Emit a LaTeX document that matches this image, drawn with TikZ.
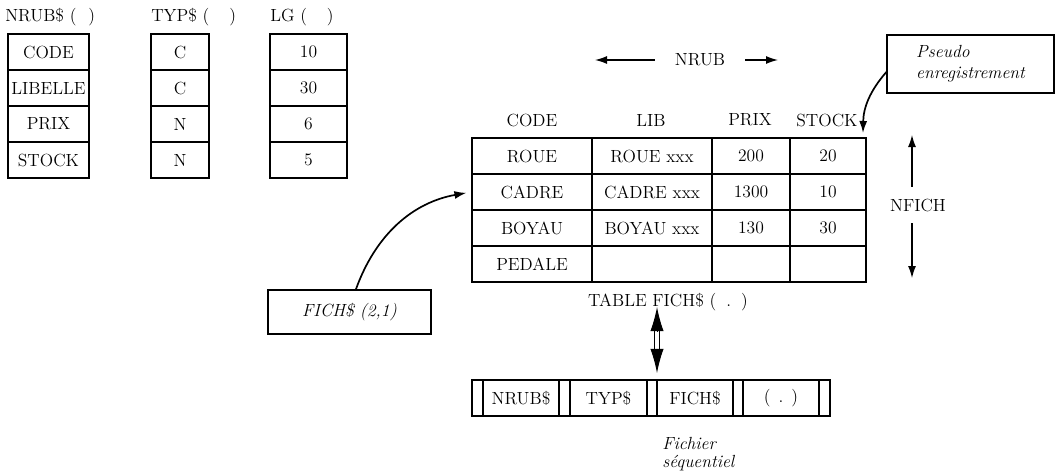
\documentclass[tikz,border=0pt]{standalone}
\usetikzlibrary{arrows.meta}
\begin{document}
\begin{tikzpicture}[
        x=0.025cm,
        y=-0.025cm,
        every node/.style={
            inner sep=0pt,
            font=\fontsize{12.5}{15}\selectfont
        },
        cell/.style={draw=black, line width=1.2pt, minimum height=9mm},
        callout/.style={draw=black, line width=0.9pt, font=\fontsize{12.5}{15}\selectfont\itshape},
        flecha/.style={-{Latex[length=3mm,width=2mm]}, line width=0.9pt}
    ]
    \useasboundingbox (0,0) rectangle (1060,474);

    % Tableaux des rubriques
    \node[anchor=west] (tnrub) at (5,17)   {NRUB\$ (\hspace{3mm})};
    \node[anchor=west] (ttyp)  at (151,17) {TYP\$ (\hspace{5mm})};
    \node[anchor=west] (tlg)   at (270,17) {LG (\hspace{5mm})};

    \node[cell, minimum width=20.25mm] (rub1) at (48.5,52)  {CODE};
    \node[cell, minimum width=20.25mm] (rub2) at (48.5,88)  {LIBELLE};
    \node[cell, minimum width=20.25mm] (rub3) at (48.5,124) {PRIX};
    \node[cell, minimum width=20.25mm] (rub4) at (48.5,160) {STOCK};

    \node[cell, minimum width=14.5mm] (typ1) at (180,52)  {C};
    \node[cell, minimum width=14.5mm] (typ2) at (180,88)  {C};
    \node[cell, minimum width=14.5mm] (typ3) at (180,124) {N};
    \node[cell, minimum width=14.5mm] (typ4) at (180,160) {N};

    \node[cell, minimum width=19.25mm] (lg1) at (308.5,52)  {10};
    \node[cell, minimum width=19.25mm] (lg2) at (308.5,88)  {30};
    \node[cell, minimum width=19.25mm] (lg3) at (308.5,124) {6};
    \node[cell, minimum width=19.25mm] (lg4) at (308.5,160) {5};

    % Table FICH$
    \node (hcode)  at (532,120) {CODE};
    \node (hlib)   at (651,120) {LIB};
    \node (hprix)  at (750,120) {PRIX};
    \node (hstock) at (827,120) {STOCK};

    \node[cell, minimum width=30mm]   (t11) at (532,156) {ROUE};
    \node[cell, minimum width=30mm]   (t12) at (652,156) {ROUE xxx};
    \node[cell, minimum width=19.5mm] (t13) at (751,156) {200};
    \node[cell, minimum width=19mm]   (t14) at (828,156) {20};

    \node[cell, minimum width=30mm]   (t21) at (532,192) {CADRE};
    \node[cell, minimum width=30mm]   (t22) at (652,192) {CADRE xxx};
    \node[cell, minimum width=19.5mm] (t23) at (751,192) {1300};
    \node[cell, minimum width=19mm]   (t24) at (828,192) {10};

    \node[cell, minimum width=30mm]   (t31) at (532,228) {BOYAU};
    \node[cell, minimum width=30mm]   (t32) at (652,228) {BOYAU xxx};
    \node[cell, minimum width=19.5mm] (t33) at (751,228) {130};
    \node[cell, minimum width=19mm]   (t34) at (828,228) {30};

    \node[cell, minimum width=30mm]   (t41) at (532,264) {PEDALE};
    \node[cell, minimum width=30mm]   (t42) at (652,264) {};
    \node[cell, minimum width=19.5mm] (t43) at (751,264) {};
    \node[cell, minimum width=19mm]   (t44) at (828,264) {};

    \node (tabfich) at (668,302) {TABLE FICH\$ (\hspace{2.5mm}.\hspace{2.5mm})};

    % NRUB et NFICH
    \node[inner xsep=5mm] (nrub) at (700,60) {NRUB};
    \coordinate (nrubG) at (595,60);
    \coordinate (nrubD) at (778,60);
    \draw[flecha] (nrub) -- (nrubG);
    \draw[flecha] (nrub) -- (nrubD);

    \node[inner ysep=2.9mm] (nfich) at (918,205) {NFICH};
    \coordinate (nfichH) at (912,135);
    \coordinate (nfichB) at (912,278);
    \draw[flecha] (nfichH |- nfich.north) -- (nfichH);
    \draw[flecha] (nfichB |- nfich.south) -- (nfichB);

    % Renvois
    \node[callout, minimum width=41.75mm, minimum height=14.5mm, align=left]
        (pseudo) at (970.5,64) {Pseudo\\enregistrement};
    \coordinate (pseudoP) at (863,133);
    \draw[flecha, line width=1.2pt] ([yshift=-2mm]pseudo.west) to[bend right=20] (pseudoP);

    \node[callout, minimum width=40.75mm, minimum height=11mm]
        (fich) at (349.5,312) {FICH\$ (2,1)};
    \draw[flecha, line width=1.2pt, shorten >=1.2mm] ([xshift=1.6mm]fich.north) to[bend left=30] (t21.west);

    % Fichier sequentiel
    \node[cell, minimum width=2.75mm] (s1) at (477.5,398) {};
    \node[cell, minimum width=19mm]   (s2) at (521,398)   {NRUB\$};
    \node[cell, minimum width=2.75mm] (s3) at (564.5,398) {};
    \node[cell, minimum width=19.25mm](s4) at (608.5,398) {TYP\$};
    \node[cell, minimum width=2.5mm]  (s5) at (652,398)   {};
    \node[cell, minimum width=19mm]   (s6) at (695,398)   {FICH\$};
    \node[cell, minimum width=2.5mm]  (s7) at (738,398)   {};
    \node[cell, minimum width=19mm]   (s8) at (781,398)   {(\hspace{2mm}.\hspace{2mm})};
    \node[cell, minimum width=2.75mm] (s9) at (824.5,398) {};

    \node[anchor=west, align=left, font=\fontsize{12.5}{13}\selectfont\itshape]
        (fichseq) at (662,454) {Fichier\\séquentiel};

    % Double fleche
    \coordinate (dtop)  at (657,307);
    \coordinate (dtopB) at (657,331);
    \coordinate (dbotB) at (657,349);
    \coordinate (dbot)  at (657,373);
    \draw[double, double distance=1mm, line width=0.7pt] (dtopB) -- (dbotB);
    \draw[-{Latex[length=6mm,width=3.3mm]}, line width=0.7pt] (dtopB) -- (dtop);
    \draw[-{Latex[length=6mm,width=3.3mm]}, line width=0.7pt] (dbotB) -- (dbot);

\end{tikzpicture}
\end{document}
